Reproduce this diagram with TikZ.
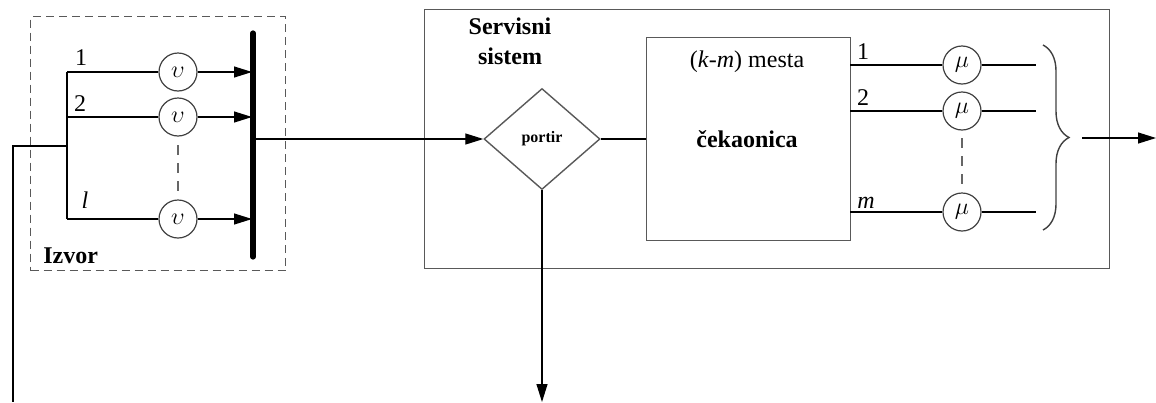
\documentclass[tikz,border=0pt]{standalone}
\usepackage{fontspec}
\setmainfont{Liberation Serif}
\usetikzlibrary{arrows.meta,shapes.geometric,decorations.pathreplacing}
\begin{document}
\begin{tikzpicture}[x=0.5pt,y=-0.5pt,
  line/.style={line width=0.6pt,draw=black},
  frame/.style={draw=black!65,line width=0.7pt,inner sep=0pt,anchor=north west},
  server/.style={circle,draw=black!75,line width=0.6pt,minimum size=19pt,inner sep=0pt,font=\fontsize{12}{14}\selectfont},
  tip/.style={-{Triangle[length=9pt,width=5.5pt]}},
  lbl/.style={font=\fontsize{12}{14}\selectfont,inner sep=0pt},
  blbl/.style={font=\fontsize{12}{15}\selectfont\bfseries,inner sep=0pt,align=center},
  gap/.style={draw=black!60,line width=0.6pt,dash pattern=on 5pt off 4pt}]
\useasboundingbox (0,0) rectangle (1156,402);

% ---------- source ----------
\node[frame,dashed,dash pattern=on 4pt off 2.5pt,minimum width=127.5pt,minimum height=127pt] (izvor) at (30,16) {};
\node[blbl,anchor=west] (izvorlbl) at (43,256) {Izvor};

\coordinate (busTop) at (253,33);
\coordinate (busBot) at (253,257);
\draw[line width=2.6pt,line cap=round] (busTop) -- (busBot);

\node[server] (v1) at (178,72) {$\upsilon$};
\node[server] (v2) at (178,117) {$\upsilon$};
\node[server] (v3) at (178,219) {$\upsilon$};

\coordinate (j1) at (67,72);
\coordinate (j2) at (67,117);
\coordinate (j3) at (67,219);
\coordinate (jm) at (67,146);
\coordinate (b1) at (252,72);
\coordinate (b2) at (252,117);
\coordinate (b3) at (252,219);

\draw[line] (j1) -- (j3);
\draw[line] (j1) -- (v1);
\draw[line] (j2) -- (v2);
\draw[line] (j3) -- (v3);
\draw[line,tip] (v1) -- (b1);
\draw[line,tip] (v2) -- (b2);
\draw[line,tip] (v3) -- (b3);
\coordinate (gv1) at (178,145);
\coordinate (gv2) at (178,193);
\draw[gap] (gv1) -- (gv2);

\node[lbl] (n1) at (81,58) {1};
\node[lbl] (n2) at (80,104) {2};
\node[lbl] (nl) at (85,200) {\textit{l}};

% feedback line on the left
\coordinate (fb) at (13,146);
\coordinate (fbEnd) at (13,402);
\draw[line] (jm) -- (fb) -- (fbEnd);

% ---------- service system ----------
\node[frame,minimum width=342.5pt,minimum height=129.5pt] (sys) at (424,9) {};
\node[blbl] (syslbl) at (510,41) {Servisni\\sistem};

\node[diamond,draw=black!65,line width=0.7pt,aspect=1.15,minimum width=58pt,minimum height=50.5pt,inner sep=0pt,font=\fontsize{8}{10}\selectfont\bfseries] (portir) at (542,139) {portir};

\node[frame,minimum width=102pt,minimum height=101.5pt] (cek) at (646,37) {};
\node[lbl] (mesta) at (747,62) {(\textit{k}-\textit{m}) mesta};
\node[blbl] (ceklbl) at (747,139) {čekaonica};

\coordinate (bout) at (253,139);
\draw[line,tip] (bout) -- (portir.west);
\draw[line] (portir.east) -- (portir.east -| cek.west);
\coordinate (down) at (542,402);
\draw[line,tip] (portir.south) -- (down);

% servers
\node[server] (m1) at (962,65) {$\mu$};
\node[server] (m2) at (962,111) {$\mu$};
\node[server] (m3) at (962,212) {$\mu$};
\coordinate (o1) at (850,65);
\coordinate (o2) at (850,111);
\coordinate (o3) at (850,212);
\coordinate (e1) at (1036,65);
\coordinate (e2) at (1036,111);
\coordinate (e3) at (1036,212);
\draw[line] (o1) -- (m1) -- (e1);
\draw[line] (o2) -- (m2) -- (e2);
\draw[line] (o3) -- (m3) -- (e3);
\coordinate (gm1) at (962,138);
\coordinate (gm2) at (962,185);
\draw[gap] (gm1) -- (gm2);

\node[lbl] (r1) at (863,52) {1};
\node[lbl] (r2) at (863,98) {2};
\node[lbl] (rm) at (866,203) {\textit{m}};

% merge brace and output
\coordinate (brTop) at (1043,45);
\coordinate (brBot) at (1043,230);
\draw[draw=black!75,line width=0.7pt,decorate,decoration={brace,amplitude=13pt}] (brTop) -- (brBot);
\coordinate (outS) at (1082,138);
\coordinate (outE) at (1156,138);
\draw[line,tip] (outS) -- (outE);
\end{tikzpicture}
\end{document}
